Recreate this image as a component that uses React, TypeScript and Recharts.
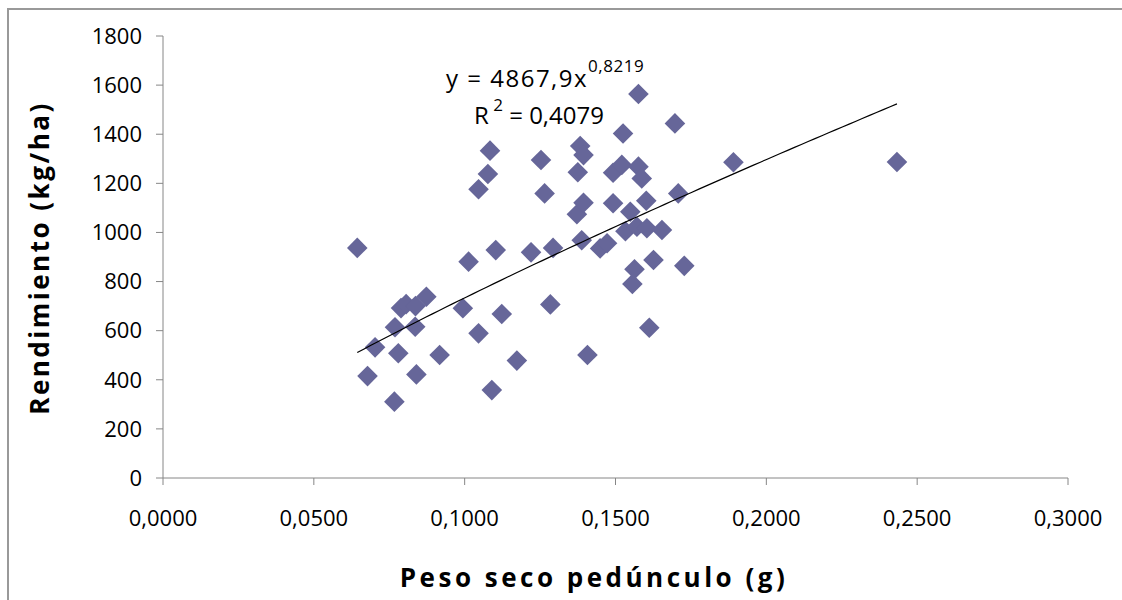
import React from "react";
import { ScatterChart, Scatter, XAxis, YAxis } from "recharts";

// peso seco del pedúnculo (g)
const pesoSeco = [
  0.0644, 0.0678, 0.0703, 0.0767, 0.0769, 0.078, 0.0789, 0.0806, 0.0837, 0.0836,
  0.084, 0.0873, 0.0917, 0.0994, 0.1013, 0.1046, 0.1046, 0.1077, 0.1084, 0.109,
  0.1103, 0.1123, 0.1173, 0.122, 0.1253, 0.1265, 0.1284, 0.1293, 0.1372, 0.1375,
  0.1383, 0.1388, 0.1394, 0.1394, 0.1407, 0.1449, 0.1472, 0.1492, 0.1492, 0.1521,
  0.1525, 0.1533, 0.1549, 0.1556, 0.1563, 0.1571, 0.1576, 0.1576, 0.1587, 0.1602,
  0.1604, 0.1612, 0.1626, 0.1654, 0.1697, 0.1708, 0.1728, 0.1891, 0.2433,
];

// rendimiento (kg/ha)
const rendimiento = [
  937, 415, 532, 311, 614, 508, 692, 708, 700, 616,
  422, 738, 501, 691, 881, 589, 1176, 1238, 1333, 358,
  928, 668, 478, 919, 1295, 1159, 707, 937, 1074, 1245,
  1352, 968, 1315, 1121, 501, 935, 956, 1243, 1119, 1275,
  1403, 1005, 1084, 790, 850, 1023, 1564, 1268, 1220, 1129,
  1017, 612, 888, 1010, 1444, 1159, 864, 1286, 1287,
];

const xTicks = [0, 0.05, 0.1, 0.15, 0.2, 0.25, 0.3];
const yTicks = [0, 200, 400, 600, 800, 1000, 1200, 1400, 1600, 1800];

// ajuste potencial y = a x^b
const trendA = 4867.9;
const trendB = 0.8219;

const points = pesoSeco.map((x, i) => ({ x, y: rendimiento[i] }));

const xMin = Math.min(...pesoSeco);
const xMax = Math.max(...pesoSeco);
const trend = Array.from({ length: 80 }, (_, i) => {
  const x = xMin + ((xMax - xMin) * i) / 79;
  return { x, y: trendA * Math.pow(x, trendB) };
});

const FONT = "'Open Sans', Lato, sans-serif";
const AXIS = "#868686";

const Diamond = (props: any) => {
  const { cx, cy } = props;
  const r = 10.3;
  return (
    <polygon
      points={`${cx},${cy - r} ${cx + r},${cy} ${cx},${cy + r} ${cx - r},${cy}`}
      fill="#666699"
    />
  );
};

const fmtX = (v: number) => v.toFixed(4).replace(".", ",");

export default function App() {
  return (
    <div
      style={{
        position: "fixed",
        left: 0,
        top: 0,
        width: 1122,
        height: 600,
        background: "#fff",
        overflow: "hidden",
      }}
    >
      <div
        style={{
          position: "absolute",
          left: 7,
          top: 8,
          width: 1130,
          height: 610,
          border: "2px solid #999",
          boxSizing: "border-box",
        }}
      />
      <ScatterChart
        width={1122}
        height={600}
        margin={{ top: 36, right: 54, bottom: 0, left: 0 }}
        style={{ position: "absolute", left: 0, top: 0 }}
      >
        <XAxis
          type="number"
          dataKey="x"
          domain={[0, 0.3]}
          ticks={xTicks}
          tickFormatter={fmtX}
          height={122}
          stroke={AXIS}
          tickSize={7}
          tickMargin={25}
          tick={{ fill: "#000", fontSize: 22, fontFamily: FONT }}
          allowDataOverflow
        />
        <YAxis
          type="number"
          dataKey="y"
          domain={[0, 1800]}
          ticks={yTicks}
          width={163}
          stroke={AXIS}
          tickSize={7}
          tickMargin={14}
          tick={{ fill: "#000", fontSize: 22, fontFamily: FONT }}
          allowDataOverflow
        />
        <Scatter
          data={points}
          shape={Diamond}
          isAnimationActive={false}
        />
        <Scatter
          data={trend}
          line={{ stroke: "#000", strokeWidth: 1.2 }}
          shape={() => <g />}
          isAnimationActive={false}
        />
      </ScatterChart>
      <svg
        width={1122}
        height={600}
        style={{ position: "absolute", left: 0, top: 0, pointerEvents: "none" }}
      >
        <text
          x={446}
          y={87}
          fontFamily={FONT}
          fontSize={24}
          letterSpacing={1.5}
          fill="#000"
          style={{ whiteSpace: "pre" }}
        >
          {"y = 4867,9x"}
          <tspan fontSize={17} dy={-15} letterSpacing={0.5}>
            0,8219
          </tspan>
        </text>
        <text
          x={474}
          y={124}
          fontFamily={FONT}
          fontSize={24}
          fill="#000"
          style={{ whiteSpace: "pre" }}
        >
          {"R"}
          <tspan fontSize={17} dy={-13}>
            {" 2"}
          </tspan>
          <tspan dy={13}>{" = 0,4079"}</tspan>
        </text>
        <text
          x={594}
          y={587}
          textAnchor="middle"
          fontFamily={FONT}
          fontSize={26}
          fontWeight="bold"
          letterSpacing={3.5}
          fill="#000"
        >
          Peso seco pedúnculo (g)
        </text>
        <text
          x={49}
          y={258}
          textAnchor="middle"
          transform="rotate(-90 49 258)"
          fontFamily={FONT}
          fontSize={26}
          fontWeight="bold"
          letterSpacing={2.5}
          fill="#000"
        >
          Rendimiento (kg/ha)
        </text>
      </svg>
    </div>
  );
}
